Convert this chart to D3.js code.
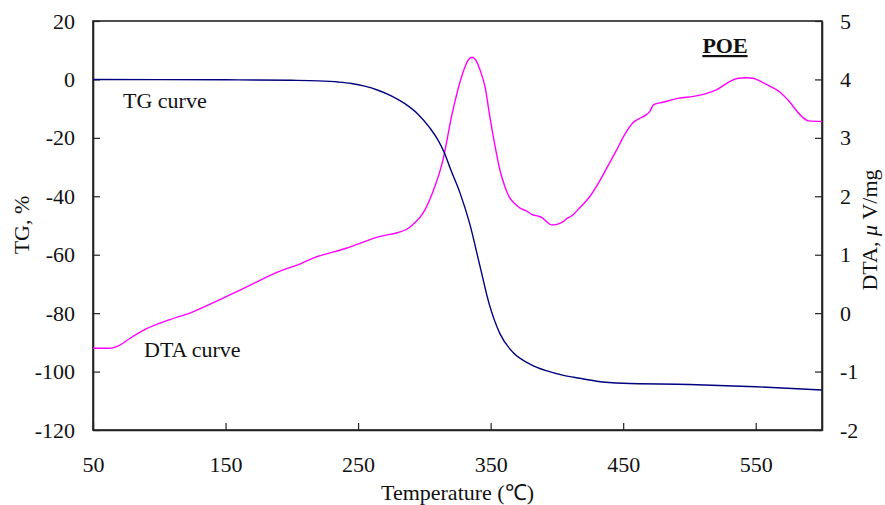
<!DOCTYPE html>
<html>
<head>
<meta charset="utf-8">
<script src="https://cdn.jsdelivr.net/npm/d3@7"></script>
<style>
  body { margin: 0; background: #fff; }
  text { font-family: "Liberation Serif", "Times New Roman", serif; }
</style>
</head>
<body>
<div id="chart"></div>
<script>
w = 885;
h = 505;

// data
var tgTemp = [50, 100, 150, 200, 220, 235, 245, 255, 265, 275, 285, 295, 304, 310, 315, 320, 327, 334, 342, 349, 357, 367, 380, 392, 405, 417, 430, 450, 500, 550, 600];
var tgVal  = [0, -0.05, -0.12, -0.3, -0.5, -0.9, -1.4, -2.3, -3.7, -5.6, -8.2, -11.8, -16.5, -20.5, -25, -31, -39, -49, -64, -77, -87, -93.5, -97.5, -99.7, -101.3, -102.3, -103.3, -104, -104.4, -105.2, -106.3];

var dtaTemp = [50, 62, 70, 78, 90, 108, 123, 140, 166, 191, 206, 216, 241, 266, 280, 287, 293, 299, 306, 314, 321, 329, 333, 336, 339, 342, 346, 349, 353, 357, 361, 364, 368, 372, 377, 382, 386, 389, 392, 396, 400, 405, 407, 412, 417, 424, 432, 438, 445, 451, 457, 463, 467, 470, 473, 480, 492, 503, 513, 521, 530, 537, 543, 548, 555, 562, 568, 575, 585, 590, 600];
var dtaVal  = [-0.6, -0.6, -0.55, -0.43, -0.27, -0.11, 0.0, 0.17, 0.45, 0.72, 0.84, 0.94, 1.11, 1.31, 1.38, 1.44, 1.55, 1.71, 2.05, 2.62, 3.42, 4.11, 4.33, 4.38, 4.32, 4.16, 3.85, 3.42, 2.9, 2.45, 2.15, 1.99, 1.88, 1.8, 1.75, 1.68, 1.66, 1.63, 1.57, 1.51, 1.52, 1.57, 1.61, 1.68, 1.8, 1.97, 2.25, 2.5, 2.79, 3.05, 3.25, 3.34, 3.39, 3.45, 3.57, 3.61, 3.68, 3.71, 3.76, 3.83, 3.96, 4.02, 4.03, 4.02, 3.95, 3.87, 3.79, 3.63, 3.36, 3.29, 3.28];

var xTicks = [50, 150, 250, 350, 450, 550];
var tgTicks = [20, 0, -20, -40, -60, -80, -100, -120];
var dtaTicks = [5, 4, 3, 2, 1, 0, -1, -2];

var padL = 93, padR = 822, padT = 21, padB = 430;

var svg = d3.select("#chart")
  .append("svg")
  .attr("width", w)
  .attr("height", h);

var x = d3.scaleLinear().domain([50, 600]).range([padL, padR]);
var yTG = d3.scaleLinear().domain([-120, 20]).range([padB, padT]);
var yDTA = d3.scaleLinear().domain([-2, 5]).range([padB, padT]);

// frame
svg.append("rect")
  .attr("x", padL).attr("y", padT)
  .attr("width", padR - padL).attr("height", padB - padT)
  .attr("fill", "none")
  .attr("stroke", "#222")
  .attr("stroke-width", 1.6);

// axes (ticks pointing inward)
var xAxis = svg.append("g")
  .attr("transform", "translate(0," + padB + ")")
  .call(d3.axisBottom(x).tickValues(xTicks).tickSizeInner(-7).tickSizeOuter(0).tickPadding(26));

var lAxis = svg.append("g")
  .attr("transform", "translate(" + padL + ",0)")
  .call(d3.axisLeft(yTG).tickValues(tgTicks).tickSizeInner(-7).tickSizeOuter(0).tickPadding(18));

var rAxis = svg.append("g")
  .attr("transform", "translate(" + padR + ",0)")
  .call(d3.axisRight(yDTA).tickValues(dtaTicks).tickSizeInner(-7).tickSizeOuter(0).tickPadding(18));

[xAxis, lAxis, rAxis].forEach(function (g) {
  g.select(".domain").attr("stroke", "#222").attr("stroke-width", 1.6);
  g.selectAll(".tick line").attr("stroke", "#222").attr("stroke-width", 1.2);
  g.selectAll(".tick text")
    .attr("font-family", "Liberation Serif, Times New Roman, serif")
    .attr("font-size", "22px")
    .attr("fill", "#111");
});
// plain hyphen minus like the original
lAxis.selectAll(".tick text").text(function (d) { return d; });
rAxis.selectAll(".tick text").text(function (d) { return d; });

// curves
var tgData = tgTemp.map(function (t, i) { return [t, tgVal[i]]; });
var dtaData = dtaTemp.map(function (t, i) { return [t, dtaVal[i]]; });

svg.append("path")
  .datum(dtaData)
  .attr("fill", "none")
  .attr("stroke", "#ff00ff")
  .attr("stroke-width", 1.4)
  .attr("d", d3.line()
    .x(function (d) { return x(d[0]); })
    .y(function (d) { return yDTA(d[1]); })
    .curve(d3.curveMonotoneX));

svg.append("path")
  .datum(tgData)
  .attr("fill", "none")
  .attr("stroke", "#000080")
  .attr("stroke-width", 1.4)
  .attr("d", d3.line()
    .x(function (d) { return x(d[0]); })
    .y(function (d) { return yTG(d[1]); })
    .curve(d3.curveMonotoneX));

// labels
svg.append("text")
  .attr("x", 123).attr("y", 108)
  .attr("font-size", "22px").attr("fill", "#111")
  .text("TG curve");

svg.append("text")
  .attr("x", 144).attr("y", 357)
  .attr("font-size", "22px").attr("fill", "#111")
  .text("DTA curve");

svg.append("text")
  .attr("x", 725).attr("y", 53)
  .attr("text-anchor", "middle")
  .attr("font-size", "22px").attr("font-weight", "bold").attr("fill", "#111")
  .attr("text-decoration", "underline")
  .text("POE");

svg.append("text")
  .attr("x", (padL + padR) / 2).attr("y", 500)
  .attr("text-anchor", "middle")
  .attr("font-size", "22px").attr("fill", "#111")
  .text("Temperature (℃)");

svg.append("text")
  .attr("transform", "translate(29,225) rotate(-90)")
  .attr("text-anchor", "middle")
  .attr("font-size", "22px").attr("fill", "#111")
  .text("TG, %");

var rl = svg.append("text")
  .attr("transform", "translate(877,230) rotate(-90)")
  .attr("text-anchor", "middle")
  .attr("font-size", "22px").attr("fill", "#111");
rl.append("tspan").text("DTA,  ");
rl.append("tspan").attr("font-style", "italic").text("μ");
rl.append("tspan").text(" V/mg");
</script>
</body>
</html>
